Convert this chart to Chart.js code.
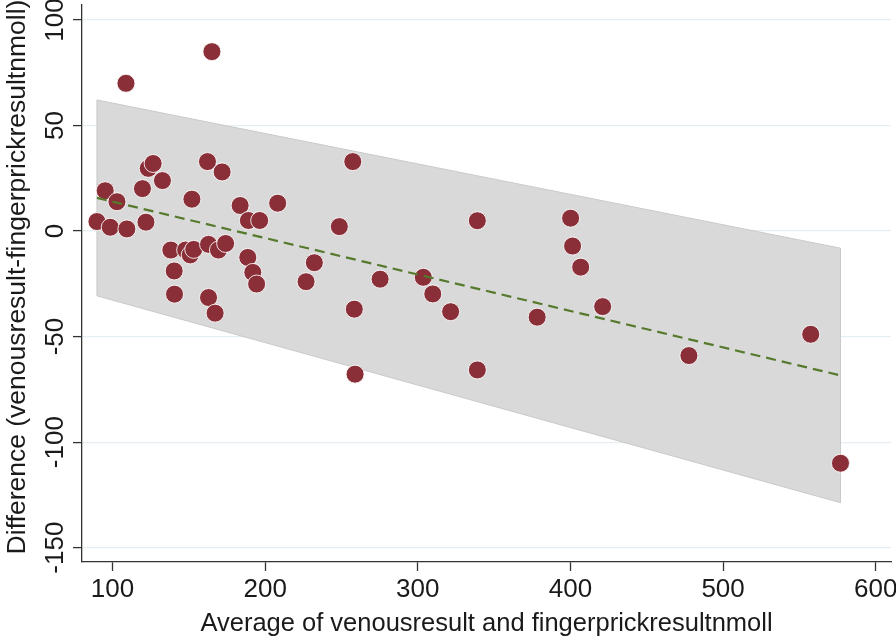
<!DOCTYPE html>
<html>
<head>
<meta charset="utf-8">
<script src="https://cdn.jsdelivr.net/npm/chart.js@4/dist/chart.umd.min.js"></script>
<style>
  html, body { margin: 0; padding: 0; background: #ffffff; }
  #c { display: block; }
</style>
</head>
<body>
<canvas id="c" width="896" height="640"></canvas>
<script>
// ---- data ----
const avgValues = [89.8, 95.2, 98.5, 102.9, 108.8, 109.4, 119.6, 121.9, 123.4, 126.6,
  132.7, 138.2, 140.4, 140.6, 147.9, 150.9, 153.2, 152.0, 162.2, 162.9,
  162.9, 165.1, 167.2, 169.4, 171.8, 174.1, 183.6, 188.6, 189.0, 191.9,
  194.4, 196.4, 208.2, 226.8, 232.2, 248.6, 257.4, 258.4, 258.9, 275.3,
  303.6, 309.8, 321.5, 339.0, 339.0, 378.2, 400.1, 401.4, 406.7, 421.1,
  477.6, 557.4, 576.9];
const diffValues = [4.5, 19.1, 1.8, 13.9, 70.0, 1.0, 20.1, 4.2, 29.7, 32.0,
  23.9, -9.0, -18.9, -29.9, -9.0, -11.3, -8.7, 15.1, 32.9, -6.3,
  -31.5, 85.0, -38.9, -9.0, 28.0, -5.9, 12.1, -12.5, 5.0, -19.6,
  -25.1, 5.0, 13.2, -24.0, -15.0, 2.1, 32.9, -37.0, -67.8, -22.8,
  -21.9, -29.8, -38.2, 4.9, -65.8, -40.8, 6.1, -7.1, -17.1, -35.8,
  -59.0, -48.9, -110.0];
const bandX = [89.8, 576.9];
const bandUpper = [62.1, -8.1];
const bandLower = [-30.7, -128.7];
const fitLine = [15.7, -68.4];
const xTickValues = [100, 200, 300, 400, 500, 600];
const yTickValues = [-150, -100, -50, 0, 50, 100];
const xTitle = 'Average of venousresult and fingerprickresultnmoll';
const yTitle = 'Difference (venousresult-fingerprickresultnmoll)';

// ---- build datasets ----
const scatterPts = avgValues.map((x, i) => ({ x: x, y: diffValues[i] }));
const bandPts = [
  { x: bandX[0], y: bandUpper[0] },
  { x: bandX[1], y: bandUpper[1] },
  { x: bandX[1], y: bandLower[1] },
  { x: bandX[0], y: bandLower[0] },
  { x: bandX[0], y: bandUpper[0] }
];
const fitPts = bandX.map((x, i) => ({ x: x, y: fitLine[i] }));

const FONT = "'Liberation Sans', Arial, Helvetica, sans-serif";
const TICKFONT = "'Liberation Sans Narrow', 'Arial Narrow', 'Liberation Sans', Arial, sans-serif";

const textPlugin = {
  id: 'yText',
  afterDraw(chart) {
    const ctx = chart.ctx;
    const ys = chart.scales.y;
    ctx.save();
    ctx.fillStyle = '#1a1a1a';
    ctx.font = '26px ' + TICKFONT;
    ctx.textAlign = 'center';
    ctx.textBaseline = 'alphabetic';
    yTickValues.forEach(v => {
      const py = ys.getPixelForValue(v);
      ctx.save();
      ctx.translate(63, py);
      ctx.rotate(-Math.PI / 2);
      ctx.fillText(String(v), 0, 0);
      ctx.restore();
    });
    // y axis title
    ctx.font = '26.5px ' + FONT;
    ctx.save();
    ctx.translate(25, 277);
    ctx.rotate(-Math.PI / 2);
    ctx.fillText(yTitle, 0, 0);
    ctx.restore();
    ctx.restore();
  }
};

new Chart(document.getElementById('c'), {
  type: 'scatter',
  data: {
    datasets: [
      {
        label: 'fit',
        data: fitPts,
        showLine: true,
        borderColor: '#557a2c',
        borderWidth: 2.2,
        borderDash: [10, 6],
        pointRadius: 0,
        fill: false,
        order: 0
      },
      {
        label: 'points',
        data: scatterPts,
        pointRadius: 9,
        pointBackgroundColor: '#8a2e38',
        pointBorderColor: 'rgba(255,255,255,0.85)',
        pointBorderWidth: 1,
        order: 1
      },
      {
        label: 'band',
        data: bandPts,
        showLine: true,
        borderColor: '#c9c9c9',
        borderWidth: 1,
        backgroundColor: '#d9d9d9',
        pointRadius: 0,
        fill: 'shape',
        order: 2
      }
    ]
  },
  options: {
    responsive: false,
    animation: false,
    devicePixelRatio: 1,
    layout: { autoPadding: false, padding: { top: 5, right: 5, left: 0, bottom: 0 } },
    plugins: {
      legend: { display: false },
      tooltip: { enabled: false }
    },
    scales: {
      x: {
        type: 'linear',
        min: 80,
        max: 610,
        afterFit(scale) {
          scale.height = 78;
          scale.paddingLeft = 0; scale.paddingRight = 0;
          scale.paddingTop = 0; scale.paddingBottom = 0;
        },
        afterBuildTicks(scale) { scale.ticks = xTickValues.map(v => ({ value: v })); },
        ticks: {
          includeBounds: false,
          padding: 3,
          color: '#1a1a1a',
          font: { family: TICKFONT, size: 26 },
          maxRotation: 0,
          callback: v => String(v)
        },
        grid: {
          drawOnChartArea: false,
          drawTicks: true,
          tickLength: 9,
          tickColor: '#333333',
          tickWidth: 1.3
        },
        border: { display: true, color: '#333333', width: 1.3 },
        title: {
          display: true,
          text: xTitle,
          color: '#1a1a1a',
          font: { family: FONT, size: 25.5 },
          padding: { top: 0, bottom: 1 }
        }
      },
      y: {
        type: 'linear',
        min: -156.8,
        max: 107.1,
        afterFit(scale) {
          scale.width = 82;
          scale.paddingLeft = 0; scale.paddingRight = 0;
          scale.paddingTop = 0; scale.paddingBottom = 0;
        },
        afterBuildTicks(scale) { scale.ticks = yTickValues.map(v => ({ value: v })); },
        ticks: { display: false, includeBounds: false },
        grid: {
          color: '#e5eef2',
          lineWidth: 1.2,
          drawTicks: true,
          tickLength: 9,
          tickColor: '#333333',
          tickWidth: 1.3
        },
        border: { display: true, color: '#333333', width: 1.3 },
        title: { display: false }
      }
    }
  },
  plugins: [textPlugin]
});
</script>
</body>
</html>
